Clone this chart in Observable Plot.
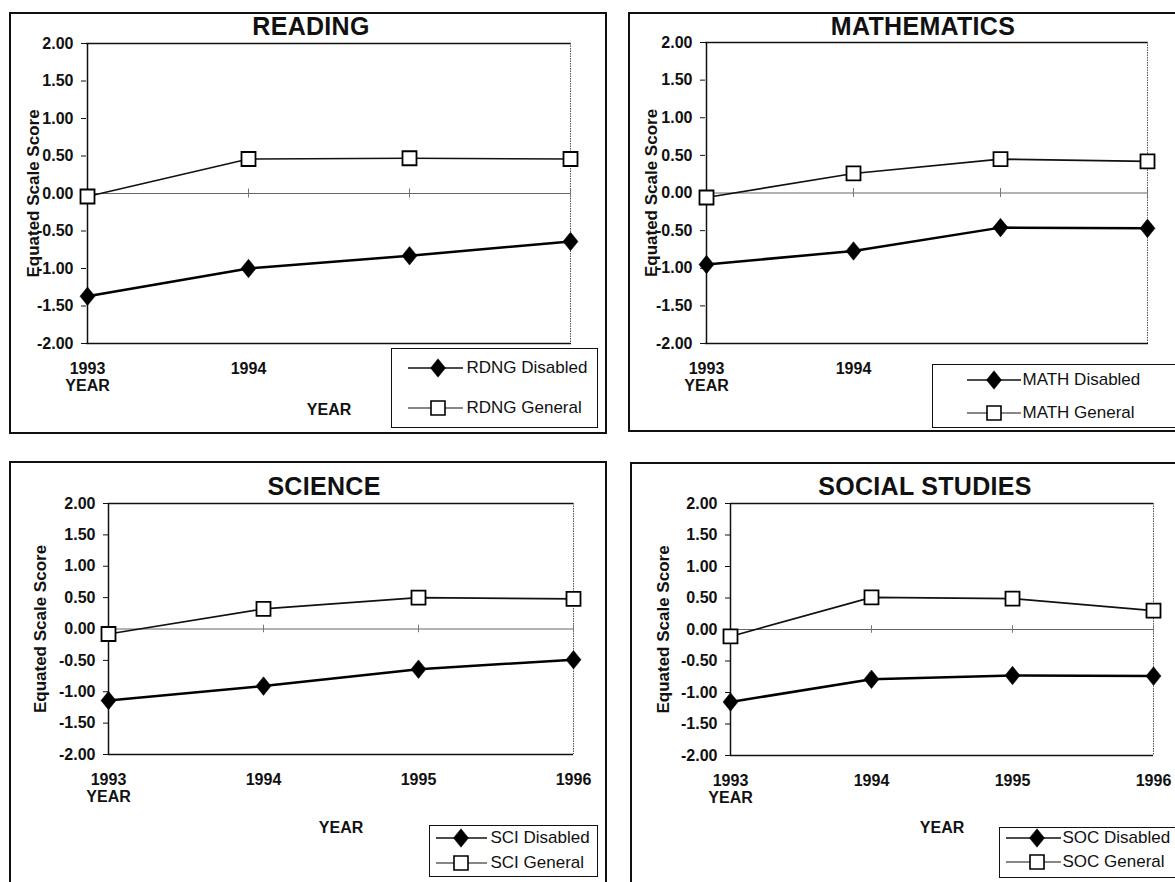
<!DOCTYPE html>
<html>
<head>
<meta charset="utf-8">
<script src="https://cdn.jsdelivr.net/npm/d3@7"></script>
<script src="https://cdn.jsdelivr.net/npm/@observablehq/plot@0.6"></script>
<style>
html,body{margin:0;padding:0;background:#fff;}
body{width:1175px;height:882px;overflow:hidden;position:relative;font-family:"Liberation Sans",Arial,sans-serif;color:#111;}
.frame{position:absolute;border:2px solid #111;box-sizing:border-box;}
.title{position:absolute;font-weight:bold;font-size:25px;line-height:25px;letter-spacing:0.3px;white-space:nowrap;transform:translateX(-50%);}
.legend{position:absolute;background:#fff;border:1.5px solid #111;box-sizing:border-box;}
.lrow{position:absolute;left:0;white-space:nowrap;font-size:17px;}
.lrow span{position:absolute;top:-10px;line-height:20px;}
.lrow svg{position:absolute;left:0;top:-12px;overflow:visible;}
</style>
</head>
<body>
<script>
// ---------------- data ----------------
const years = ["1993", "1994", "1995", "1996"];
const rdngDisabled = [-1.37, -1.00, -0.83, -0.64];
const rdngGeneral  = [-0.04, 0.46, 0.47, 0.46];
const mathDisabled = [-0.95, -0.77, -0.46, -0.47];
const mathGeneral  = [-0.06, 0.26, 0.45, 0.42];
const sciDisabled  = [-1.14, -0.91, -0.64, -0.49];
const sciGeneral   = [-0.08, 0.32, 0.50, 0.48];
const socDisabled  = [-1.15, -0.79, -0.73, -0.74];
const socGeneral   = [-0.11, 0.51, 0.49, 0.30];
const yTicks = [-2, -1.5, -1, -0.5, 0, 0.5, 1, 1.5, 2];
const titles = ["READING", "MATHEMATICS", "SCIENCE", "SOCIAL STUDIES"];
const seriesNames = [
  ["RDNG Disabled", "RDNG General"],
  ["MATH Disabled", "MATH General"],
  ["SCI Disabled", "SCI General"],
  ["SOC Disabled", "SOC General"]
];
// tick labels that stay visible (the legend boxes hide 1995 and 1996 in the top row)
const visibleYears = [
  ["1993", "1994"],
  ["1993", "1994"],
  ["1993", "1994", "1995", "1996"],
  ["1993", "1994", "1995", "1996"]
];
const yLabel = "Equated Scale Score";
const xLabel = "YEAR";

// ---------------- layout ----------------
const layouts = [
  {frame:{x0:9,y0:12,x1:607,y1:434}, plot:{x0:86,y0:43,x1:571,y1:343}, titleX:311, titleBase:35, yLabelDx:-53, xTitleDy:71,
   legend:{x0:391,y0:348,x1:598,y1:428,rows:[20,60],line:[16,71],mark:46,text:76}},
  {frame:{x0:628,y0:12,x1:1190,y1:432}, plot:{x0:705,y0:42,x1:1148,y1:343}, titleX:923, titleBase:35, yLabelDx:-54, xTitleDy:null,
   legend:{x0:932,y0:364,x1:1190,y1:428,rows:[16,49],line:[34,88],mark:61,text:91}},
  {frame:{x0:9,y0:461,x1:607,y1:895}, plot:{x0:108,y0:503,x1:573,y1:754}, titleX:324, titleBase:495, yLabelDx:-68, xTitleDy:78,
   legend:{x0:429,y0:825,x1:598,y1:877,rows:[13,38],line:[6,57],mark:31,text:62}},
  {frame:{x0:630,y0:462,x1:1190,y1:895}, plot:{x0:730,y0:503,x1:1153,y1:755}, titleX:925, titleBase:495, yLabelDx:-67, xTitleDy:77,
   legend:{x0:999,y0:827,x1:1190,y1:878,rows:[11,35],line:[6,61],mark:37,text:64}}
];
const panelData = [
  [rdngDisabled, rdngGeneral],
  [mathDisabled, mathGeneral],
  [sciDisabled, sciGeneral],
  [socDisabled, socGeneral]
];

const diamondSym = {draw(ctx, size){const s=Math.sqrt(size);const w=s*0.55,h=s*0.68;ctx.moveTo(0,-h);ctx.lineTo(w,0);ctx.lineTo(0,h);ctx.lineTo(-w,0);ctx.closePath();}};
const DIAMOND_R = 7.7, SQUARE_R = 7.9;

function el(tag, cls, css) {
  const e = document.createElement(tag);
  if (cls) e.className = cls;
  Object.assign(e.style, css || {});
  document.body.appendChild(e);
  return e;
}

function drawPanel(k) {
  const L = layouts[k];
  const [disabled, general] = panelData[k];
  const fr = L.frame, pl = L.plot;
  el("div", "frame", {left: fr.x0 + "px", top: fr.y0 + "px", width: (fr.x1 - fr.x0) + "px", height: (fr.y1 - fr.y0) + "px"});

  const mL = pl.x0 - fr.x0, mT = pl.y0 - fr.y0, mR = 40, mB = 110;
  const width = pl.x1 - fr.x0 + mR, height = pl.y1 - fr.y0 + mB;
  const rowsD = years.map((y, i) => ({year: y, v: disabled[i]}));
  const rowsG = years.map((y, i) => ({year: y, v: general[i]}));

  const marks = [
    Plot.ruleY([2, -2], {stroke: "#111", strokeWidth: 1.3}),
    Plot.ruleX([years[years.length - 1]], {stroke: "#555", strokeWidth: 1, strokeDasharray: "1.5,1"}),
    Plot.ruleY([0], {stroke: "#666", strokeWidth: 1}),
    Plot.ruleX(years, {x: d => d, y1: -0.06, y2: 0.06, stroke: "#777", strokeWidth: 1}),
    Plot.axisY({ticks: yTicks, tickFormat: d => d.toFixed(2), tickSize: 5, tickPadding: 8, label: null}),
    Plot.ruleX([years[0]], {stroke: "#111", strokeWidth: 1.5}),
    Plot.axisX({ticks: visibleYears[k], tickSize: 0, tickPadding: 19, label: null}),
    Plot.text([years[0]], {x: d => d, text: () => xLabel, frameAnchor: "bottom", dy: 47}),
    Plot.text([yLabel], {frameAnchor: "left", textAnchor: "middle", lineAnchor: "middle", rotate: -90, dx: L.yLabelDx, fontSize: 17}),
    Plot.line(rowsG, {x: "year", y: "v", stroke: "#111", strokeWidth: 1.6}),
    Plot.line(rowsD, {x: "year", y: "v", stroke: "#000", strokeWidth: 2.5}),
    Plot.dot(rowsD, {x: "year", y: "v", symbol: diamondSym, r: DIAMOND_R, fill: "#000", stroke: "#000", strokeWidth: 0.5}),
    Plot.dot(rowsG, {x: "year", y: "v", symbol: "square", r: SQUARE_R, fill: "#fff", stroke: "#000", strokeWidth: 1.8})
  ];
  if (L.xTitleDy != null) marks.push(Plot.text([xLabel], {frameAnchor: "bottom", dy: L.xTitleDy}));

  const chart = Plot.plot({
    width, height, marginLeft: mL, marginTop: mT, marginRight: mR, marginBottom: mB,
    x: {type: "point", domain: years, padding: 0, axis: null},
    y: {domain: [-2, 2], axis: null},
    style: "background: transparent; overflow: visible; max-width: none; font-family: 'Liberation Sans', Arial, sans-serif; font-size: 16px; font-weight: bold; color: #111;",
    marks
  });
  chart.style.position = "absolute";
  chart.style.left = fr.x0 + "px";
  chart.style.top = fr.y0 + "px";
  document.body.appendChild(chart);

  const t = el("div", "title", {left: L.titleX + "px", top: (L.titleBase - 21) + "px"});
  t.textContent = titles[k];

  const lg = L.legend;
  const box = el("div", "legend", {left: lg.x0 + "px", top: lg.y0 + "px", width: (lg.x1 - lg.x0) + "px", height: (lg.y1 - lg.y0) + "px"});
  seriesNames[k].forEach((name, j) => {
    const row = document.createElement("div");
    row.className = "lrow";
    row.style.top = (lg.rows[j] - 1.5) + "px";
    const svg = d3.create("svg").attr("width", lg.line[1] + 4).attr("height", 24);
    svg.append("line").attr("x1", lg.line[0]).attr("x2", lg.line[1]).attr("y1", 12).attr("y2", 12)
      .attr("stroke", "#111").attr("stroke-width", j === 0 ? 1.5 : 1.2);
    const sym = j === 0 ? d3.symbol(diamondSym, Math.PI * DIAMOND_R * DIAMOND_R) : d3.symbol(d3.symbolSquare, Math.PI * SQUARE_R * SQUARE_R);
    svg.append("path").attr("d", sym()).attr("transform", `translate(${lg.mark},12)`)
      .attr("fill", j === 0 ? "#000" : "#fff").attr("stroke", "#000").attr("stroke-width", j === 0 ? 0.5 : 1.6);
    row.appendChild(svg.node());
    const sp = document.createElement("span");
    sp.style.left = (lg.text - 1.5) + "px";
    sp.textContent = name;
    row.appendChild(sp);
    box.appendChild(row);
  });
}

for (let k = 0; k < 4; k++) drawPanel(k);
</script>
</body>
</html>
